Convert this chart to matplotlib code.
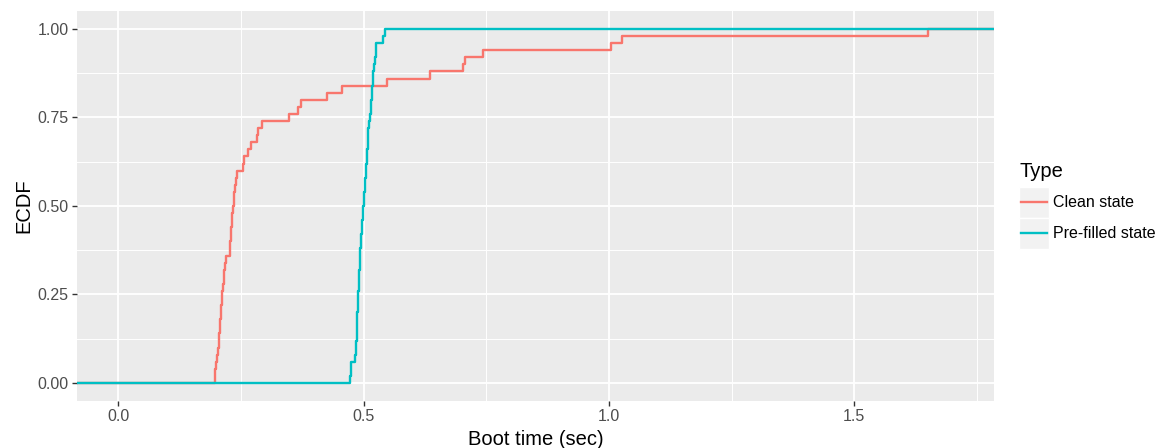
import numpy as np
import matplotlib
matplotlib.use("Agg")
import matplotlib.pyplot as plt
from matplotlib.patches import Rectangle
from matplotlib.lines import Line2D

plt.rcParams["font.family"] = ["Liberation Sans", "DejaVu Sans"]

# boot times (sec) (50 runs each)
clean_state = [
    0.196, 0.197, 0.199, 0.201, 0.203,
    0.204, 0.205, 0.206, 0.207, 0.208,
    0.210, 0.211, 0.212, 0.213, 0.215, 0.216, 0.218, 0.219,
    0.227,
    0.228, 0.229, 0.230, 0.231, 0.232, 0.233,
    0.235, 0.236, 0.238, 0.240, 0.242,
    0.254, 0.256, 0.265, 0.271, 0.282, 0.284, 0.292,
    0.347, 0.366, 0.372, 0.425, 0.456, 0.548, 0.636,
    0.702, 0.707, 0.743, 1.004, 1.026, 1.651,
]
prefilled_state = [
    0.473, 0.4735, 0.474, 0.4815,
    0.4845, 0.485, 0.4855, 0.486, 0.4865,
    0.487, 0.4875, 0.488,
    0.489, 0.4897, 0.4905, 0.491, 0.4917, 0.4924, 0.493,
    0.494, 0.495, 0.496, 0.497, 0.498, 0.4987,
    0.500, 0.501, 0.502, 0.503, 0.504, 0.5055,
    0.5065, 0.5075, 0.5085, 0.509, 0.5097, 0.5103,
    0.512, 0.514,
    0.515, 0.516, 0.517, 0.518, 0.519,
    0.521, 0.523, 0.5245, 0.5257,
    0.539, 0.544,
]
series = [("Clean state", clean_state, "#F8766D"),
          ("Pre-filled state", prefilled_state, "#00BFC4")]

x_ticks = [0.0, 0.5, 1.0, 1.5]
x_tick_labels = ["0.0", "0.5", "1.0", "1.5"]
y_ticks = [0.0, 0.25, 0.5, 0.75, 1.0]
y_tick_labels = ["0.00", "0.25", "0.50", "0.75", "1.00"]

W, H = 1157, 448
fig = plt.figure(figsize=(W / 100, H / 100), dpi=100)
ax = fig.add_axes([77 / W, 1 - 400.7 / H, (994 - 77) / W, (400.7 - 11) / H])
ax.set_facecolor("#EBEBEB")
for s in ax.spines.values():
    s.set_visible(False)

for name, vals, col in series:
    v = np.sort(np.asarray(vals))
    f = np.arange(1, len(v) + 1) / len(v)
    xs = np.concatenate([[-100], v, [100]])
    ys = np.concatenate([[0], f, [1]])
    ax.plot(xs, ys, drawstyle="steps-post", color=col, lw=1.7, label=name)

ax.set_xlim(-0.0846, 1.785)
ax.set_ylim(-0.05, 1.0508)
ax.set_xticks(x_ticks)
ax.set_xticklabels(x_tick_labels)
ax.set_yticks(y_ticks)
ax.set_yticklabels(y_tick_labels)
ax.set_xticks([0.25, 0.75, 1.25, 1.75], minor=True)
ax.set_yticks([0.125, 0.375, 0.625, 0.875], minor=True)
ax.grid(which="major", color="white", lw=1.3)
ax.grid(which="minor", color="white", lw=0.7)
ax.set_axisbelow(True)
ax.tick_params(which="major", length=3.6, width=1.0, color="#333333",
               labelcolor="#4D4D4D", labelsize=11.5, pad=2.5)
ax.tick_params(which="minor", length=0)
ax.set_xlabel("Boot time (sec)", fontsize=14.5, labelpad=4)
ax.set_ylabel("ECDF", fontsize=14.5, labelpad=3)

# legend drawn in pixel coordinates
lax = fig.add_axes([0, 0, 1, 1], facecolor="none")
lax.set_xlim(0, W)
lax.set_ylim(H, 0)
lax.axis("off")
lax.text(1019, 177, "Type", fontsize=14.5, va="baseline", ha="left")
for i, (name, vals, col) in enumerate(series):
    y0 = 187 + i * 31
    lax.add_patch(Rectangle((1019, y0), 30, 31, facecolor="#F2F2F2",
                            edgecolor="white", lw=1))
    lax.add_line(Line2D([1021, 1047], [y0 + 15.5, y0 + 15.5], color=col, lw=1.7))
    lax.text(1053, y0 + 15.5, name, fontsize=11.5, va="center", ha="left")

fig.savefig("out.png", dpi=100)
